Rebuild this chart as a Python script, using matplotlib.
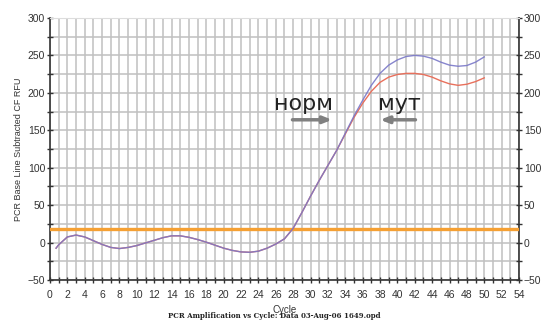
import matplotlib.pyplot as plt
import numpy as np

# PCR amplification curves (cycle vs RFU)
cycles = [0.7, 1, 2, 3, 4, 5, 6, 7, 8, 9, 10, 11, 12, 13, 14, 15, 16, 17, 18, 19,
          20, 21, 22, 23, 24, 25, 26, 27, 28, 29, 30, 31, 32, 33, 34, 35, 36, 37,
          38, 39, 40, 41, 42, 43, 44, 45, 46, 47, 48, 49, 50]
norm = [-7.5, -3, 7.5, 10, 7.5, 2.5, -2.5, -6.5, -8, -6.5, -4, -0.5, 3, 6.5, 9, 9,
        7, 4, 0.5, -3.5, -7.5, -10.5, -12.5, -13, -11.5, -7.5, -2, 5, 19, 40, 62,
        83, 103, 123, 146, 169, 190, 210, 226, 237, 244, 248.5, 250, 249, 246,
        241, 237, 235.5, 236.5, 241, 248]
mut = [-7.5, -3, 7.5, 10, 7.5, 2.5, -2.5, -6.5, -8, -6.5, -4, -0.5, 3, 6.5, 9, 9,
       7, 4, 0.5, -3.5, -7.5, -10.5, -12.5, -13, -11.5, -7.5, -2, 5, 19, 40, 62,
       83, 103, 123, 145, 167, 186, 202, 214, 221, 224.5, 226, 226, 224.5, 221,
       216, 212, 210, 211.5, 215, 220]
threshold = 18

plt.rcParams['font.family'] = ['Liberation Sans', 'DejaVu Sans']

fig = plt.figure(figsize=(5.41, 3.25), dpi=100)
ax = fig.add_axes([0.0924, 0.1385, 0.8669, 0.8062])

ax.set_xlim(0, 54)
ax.set_ylim(-50, 300)

ax.set_xticks(np.arange(0, 55, 2))
ax.set_xticks(np.arange(0, 55, 1), minor=True)
ax.set_yticks(np.arange(-50, 301, 50))
ax.set_yticks(np.arange(-50, 301, 25), minor=True)
ax.grid(True, which='both', color='#c0c0c0', lw=1.1)
ax.set_axisbelow(True)

ax.tick_params(which='both', direction='inout', length=4, width=1, color='#333333',
               right=True, labelright=True, labelsize=7.5, labelcolor='#333333')
ax.tick_params(axis='x', pad=5)
ax.tick_params(axis='y', pad=1.5)
for s in ['left', 'right', 'bottom']:
    ax.spines[s].set_color('#333333')
    ax.spines[s].set_linewidth(1.2)
ax.spines['top'].set_color('#dddddd')

ax.axhline(threshold, color='#f5a033', lw=2.4, zorder=3)
ax.plot(cycles, mut, color='#e8705c', lw=1.0, zorder=4)
ax.plot(cycles, norm, color='#7a78c8', lw=1.0, zorder=5, alpha=0.9)

ax.text(29.2, 185, 'норм', fontsize=16, family='DejaVu Sans', color='#222222',
        ha='center', va='center')
ax.text(40.2, 185, 'мут', fontsize=16, family='DejaVu Sans', color='#222222',
        ha='center', va='center')
ax.annotate('', xy=(32.8, 164), xytext=(27.6, 164),
            arrowprops=dict(arrowstyle='-|>,head_length=0.5,head_width=0.2',
                            color='#808080', lw=2.5))
ax.annotate('', xy=(37.7, 164), xytext=(42.4, 164),
            arrowprops=dict(arrowstyle='-|>,head_length=0.5,head_width=0.2',
                            color='#808080', lw=2.5))

ax.set_ylabel('PCR Base Line Subtracted CF RFU', fontsize=6.5, color='#333333',
              labelpad=3)
ax.set_xlabel('Cycle', fontsize=7, color='#333333', labelpad=4)
fig.text(0.507, 0.022, 'PCR Amplification vs Cycle: Data 03-Aug-06 1649.opd',
         fontsize=5, fontweight='bold', family='serif', ha='center', color='#222222')

fig.savefig('out.png', dpi=100)
